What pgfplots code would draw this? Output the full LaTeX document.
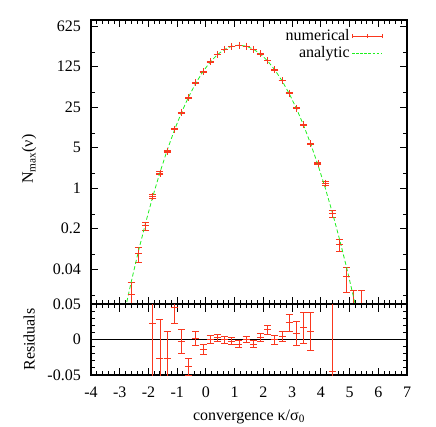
\documentclass[border=0pt]{standalone}
\usepackage{fontspec}
\setmainfont{Liberation Serif}
\usepackage{pgfplots}
\usepackage{pgfplotstable}
\pgfplotsset{compat=1.18}

\definecolor{numred}{RGB}{250,55,30}
\definecolor{anagreen}{RGB}{30,240,30}

% numerical N_max with errors (ep/em = plus/minus)
\pgfplotstableread{
x y ep em
-2.60 0.0149 0.0087 0.0087
-2.35 0.0733 0.0200 0.0200
-2.10 0.2236 0.0350 0.0350
-1.85 0.7288 0.0620 0.0620
-1.60 1.817 0.103 0.103
-1.35 4.373 0.166 0.166
-1.10 10.39 0.219 0.219
-0.85 20.19 0.344 0.344
-0.60 36.47 0.455 0.455
-0.35 65.43 0.640 0.640
-0.10 102.0 0.755 0.755
0.15 150.7 0.904 0.904
0.40 202.5 1.05 1.05
0.65 248.9 1.29 1.29
0.90 281.7 1.33 1.33
1.15 292.4 1.53 1.53
1.40 283.0 1.33 1.33
1.65 249.8 1.31 1.31
1.90 207.2 1.12 1.12
2.15 159.1 0.97 0.97
2.40 110.1 0.73 0.73
2.65 71.76 0.50 0.50
2.90 43.81 0.50 0.50
3.15 23.93 0.396 0.396
3.40 12.36 0.269 0.269
3.65 5.822 0.155 0.155
3.90 2.707 0.110 0.110
4.15 1.220 0.085 0.085
4.40 0.3643 0.050 0.050
4.65 0.1049 0.024 0.024
4.90 0.02968 0.0136 0.0136
5.15 0.0060 0.0110 0.0050
5.40 0.0040 0.0130 0.0030
}\numtab

% analytic curve
\pgfplotstableread{
x y
-2.85 0.00658
-2.60 0.02406
-2.35 0.08097
-2.10 0.2505
-1.85 0.7128
-1.60 1.8654
-1.35 4.490
-1.10 9.940
-0.85 20.24
-0.60 37.91
-0.35 65.30
-0.10 103.44
0.15 150.7
0.40 202.0
0.65 249.0
0.90 282.3
1.15 294.3
1.40 283.0
1.65 251.5
1.90 206.6
2.15 156.9
2.40 110.1
2.65 71.42
2.90 42.80
3.15 23.74
3.40 12.16
3.65 5.759
3.90 2.521
4.15 1.020
4.40 0.3815
4.65 0.1319
4.90 0.04215
5.15 0.01245
5.40 0.003398
}\anatab

% residuals
\pgfplotstableread{
x r e
-1.85 0.0225 0.085
-1.60 -0.026 0.055
-1.35 -0.026 0.037
-1.10 0.045 0.022
-0.85 -0.0023 0.017
-0.60 -0.038 0.012
-0.35 0.002 0.0098
-0.10 -0.014 0.0073
0.15 0.0 0.006
0.40 0.0024 0.0052
0.65 -0.0005 0.0052
0.90 -0.0023 0.0047
1.15 -0.0066 0.0052
1.40 0.0 0.0047
1.65 -0.0066 0.0052
1.90 0.003 0.0054
2.15 0.014 0.0062
2.40 -0.0004 0.0066
2.65 0.0047 0.007
2.90 0.0235 0.0117
3.15 0.0082 0.0167
3.40 0.0165 0.0221
3.65 0.011 0.027
4.40 -0.045 0.12
}\restab

\pgfplotsset{
  panel/.style={
    scale only axis, width=316pt,
    xmin=-4, xmax=7,
    xtick={-4,-3,...,7}, minor x tick num=4,
    tick align=inside,
    major tick length=7.5pt, minor tick length=4pt,
    every tick/.append style={draw=black, line width=0.9pt},
    axis line style={draw=black, line width=1.2pt},
    /pgf/number format/assume math mode=true,
    scaled y ticks=false, scaled x ticks=false,
    tick label style={text=black},
    label style={text=black},
    yticklabel style={anchor=east, inner sep=0pt, xshift=-10pt},
  },
  errstyle/.style={
    draw=numred, line width=0.8pt, only marks, mark=+, mark size=3.5pt,
    mark options={draw=numred, line width=0.8pt, solid},
    error bars/.cd, y dir=both, y explicit,
    error mark=-,
    error mark options={rotate=90, draw=numred, line width=0.8pt, mark size=3.5pt},
    error bar style={draw=numred, line width=0.8pt},
  },
}

\begin{document}
\fontsize{16}{19}\selectfont
\color{numred}%
\begin{tikzpicture}[font=\fontsize{16}{19}\selectfont]
\begin{axis}[panel, name=top, at={(0,0)}, anchor=south west,
    height=284pt,
    ymode=log,
    ymin=0.01, ymax=800,
    ytick={0.04,0.2,1,5,25,125,625},
    yticklabels={0.04,0.2,1,5,25,125,625},
    minor ytick={0.0142,0.0708,0.354,1.77,8.85,44.2,221},
    xticklabels={},
    ylabel={N\textsubscript{max}(ν)},
    every axis y label/.style={at={(axis description cs:-0.196,0.51)}, rotate=90, anchor=center, text=black},
    legend plot pos=right,
    legend cell align=right,
    legend style={draw=none, fill=none, text=black, at={(axis description cs:0.923,0.975)},
      anchor=north east, row sep=0pt, inner sep=0pt},
  ]
\addplot[legend image code/.code={
    \draw[numred, line width=0.8pt] (0pt,0pt) -- (30pt,0pt)
      (0pt,-2.2pt) -- (0pt,2.2pt) (15pt,-2.2pt) -- (15pt,2.2pt) (30pt,-2.2pt) -- (30pt,2.2pt);},
    errstyle]
  table[x=x, y=y, y error plus=ep, y error minus=em] {\numtab};
\addlegendentry{numerical}
\addplot[anagreen, line width=0.8pt, dash pattern=on 4pt off 2.5pt, mark=none,
    legend image code/.code={
    \draw[anagreen, line width=0.8pt, dash pattern=on 2.5pt off 1.6pt] (0pt,0pt) -- (30pt,0pt);}]
  table[x=x, y=y] {\anatab};
\addlegendentry{analytic}
\end{axis}

\begin{axis}[panel, name=bot, at={(0,0)}, anchor=north west,
    height=71pt,
    ymin=-0.05, ymax=0.05,
    ytick={-0.05,0,0.05},
    yticklabels={-0.05,0,0.05},
    minor ytick={-0.04,-0.03,-0.02,-0.01,0.01,0.02,0.03,0.04},
    xticklabels={-4,-3,-2,-1,0,1,2,3,4,5,6,7},
    xticklabel style={anchor=base, yshift=-22pt},
    xlabel={convergence κ/σ\textsubscript{0}},
    every axis x label/.style={at={(axis description cs:0.5,-0.634)}, anchor=base, text=black},
    ylabel={Residuals},
    every axis y label/.style={at={(axis description cs:-0.196,0.5)}, rotate=90, anchor=center, text=black},
  ]
\addplot[draw=black, line width=1pt, forget plot] coordinates {(-4,0) (7,0)};
\addplot[errstyle] table[x=x, y=r, y error=e] {\restab};
\end{axis}

\pgfresetboundingbox
\path (-91pt,-122pt) rectangle (345pt,304pt);
\end{tikzpicture}
\end{document}
